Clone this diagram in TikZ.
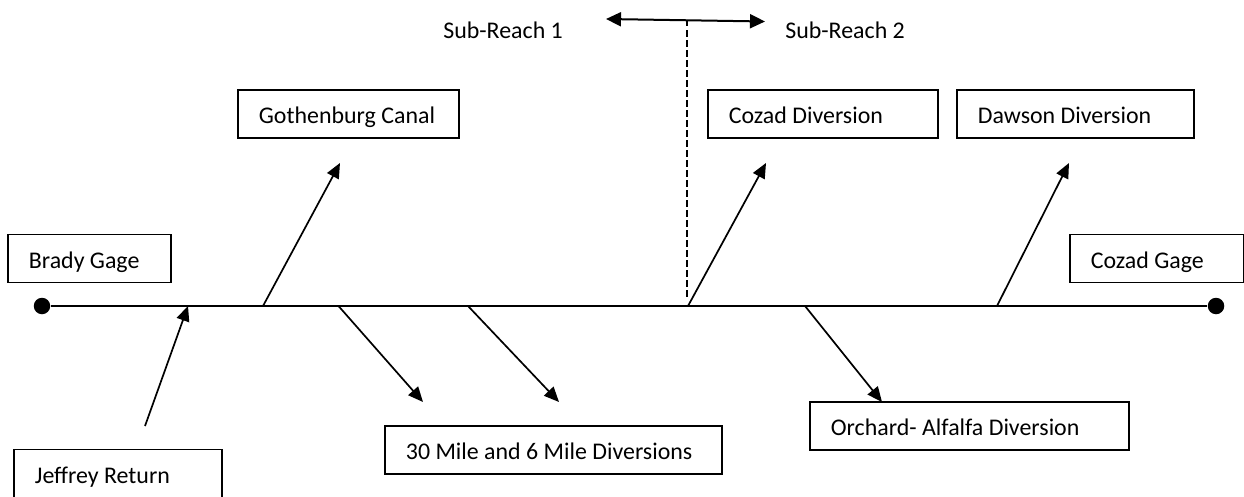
\documentclass[tikz,border=0pt]{standalone}
\usepackage{fontspec}
\setmainfont{Carlito}
\usetikzlibrary{arrows.meta}

\tikzset{
  box/.style={draw, line width=0.036cm, anchor=west,
    minimum height=0.96cm, inner xsep=0.42cm, inner ysep=0pt,
    text height=0.48cm, text depth=0.1cm,
    font=\fontsize{13.6}{16}\selectfont,
    execute at begin node={\hbox to #1\bgroup},
    execute at end node={\hfil\egroup}},
  label/.style={inner sep=0pt, anchor=base west, font=\fontsize{13.6}{16}\selectfont},
  gage/.style={circle, fill, inner sep=0pt, minimum size=0.33cm},
  flow/.style={line width=0.034cm, -{Triangle[length=0.3cm,width=0.26cm]}}
}

\begin{document}
\begin{tikzpicture}
		\useasboundingbox (0,0) rectangle (24.88,9.92);

		% Draw the river with the two gages
		\node[gage] (bradydot) at (0.84,3.8) {};
		\node[gage] (cozaddot) at (24.32,3.8) {};
		\draw[line width=0.045cm] (bradydot) -- (cozaddot);

		% Boxes for gages, returns and diversions
		\node[box=2.42cm] (brady) at (0.14,4.75) {Brady Gage};
		\node[box=2.64cm] (cozadgage) at (21.38,4.75) {Cozad Gage};
		\node[box=3.32cm] (jeffrey) at (0.26,0.45) {Jeffrey Return};
		\node[box=3.58cm] (gothenburg) at (4.74,7.64) {Gothenburg Canal};
		\node[box=5.9cm] (thirtymile) at (7.68,0.92) {30 Mile and 6 Mile Diversions};
		\node[box=3.76cm] (cozaddiv) at (14.14,7.64) {Cozad Diversion};
		\node[box=3.9cm] (dawson) at (19.12,7.64) {Dawson Diversion};
		\node[box=5.54cm] (orchard) at (16.18,1.4) {Orchard- Alfalfa Diversion};

		% Points on the river and arrow ends
		\coordinate (jeffreyend) at (2.9,1.4);
		\coordinate (jeffreyin) at (3.76,3.8);
		\coordinate (gothenburgout) at (5.26,3.8);
		\coordinate (gothenburgend) at (6.8,6.66);
		\coordinate (thirtyout) at (6.77,3.8);
		\coordinate (thirtyend) at (8.46,1.88);
		\coordinate (sixout) at (9.36,3.8);
		\coordinate (sixend) at (11.18,1.88);
		\coordinate (cozadout) at (13.76,3.8);
		\coordinate (cozadend) at (15.32,6.66);
		\coordinate (orchardout) at (16.1,3.8);
		\coordinate (orchardend) at (17.64,1.88);
		\coordinate (dawsonout) at (19.94,3.8);
		\coordinate (dawsonend) at (21.38,6.66);

		% Draw inflow and diversion arrows
		\foreach \a/\b in {jeffreyend/jeffreyin, gothenburgout/gothenburgend,
		  thirtyout/thirtyend, sixout/sixend, cozadout/cozadend,
		  orchardout/orchardend, dawsonout/dawsonend}
		\draw[flow] (\a) -- (\b);

		% Split between the two sub-reaches
		\coordinate (splittop) at (13.74,9.52);
		\coordinate (splitbottom) at (13.74,3.96);
		\draw[line width=0.034cm, dash pattern=on 0.13cm off 0.07cm] (splittop) -- (splitbottom);
		\coordinate (reachleft) at (12.12,9.54);
		\coordinate (reachright) at (15.3,9.49);
		\draw[line width=0.04cm, {Triangle[length=0.3cm,width=0.28cm]}-{Triangle[length=0.3cm,width=0.28cm]}] (reachleft) -- (reachright);

		% Labels for the sub-reaches
		\node[label] (reachone) at (8.86,9.14) {Sub-Reach 1};
		\node[label] (reachtwo) at (15.7,9.14) {Sub-Reach 2};
	\end{tikzpicture}
\end{document}
